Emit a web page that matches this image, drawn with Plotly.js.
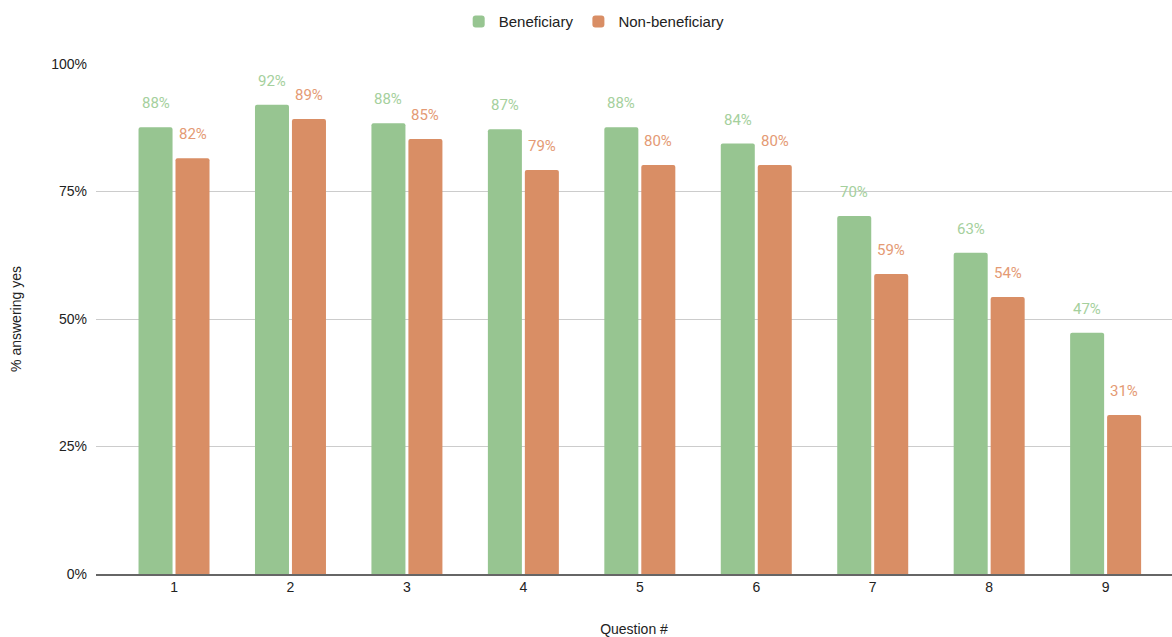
<!DOCTYPE html>
<html>
<head>
<meta charset="utf-8">
<script src="https://cdn.plot.ly/plotly-3.0.1.min.js"></script>
<style>html,body{margin:0;padding:0;background:#fff;}#chart{width:1172px;height:637px;}</style>
</head>
<body>
<div id="chart"></div>
<script>
const questions = [1, 2, 3, 4, 5, 6, 7, 8, 9];
const beneficiary = [0.876, 0.92, 0.884, 0.872, 0.876, 0.844, 0.702, 0.63, 0.473];
const nonBeneficiary = [0.815, 0.892, 0.853, 0.792, 0.802, 0.802, 0.588, 0.543, 0.312];
const yTickVals = [0, 0.25, 0.5, 0.75, 1];
const yTickText = ['0%', '25%', '50%', '75%', '100%'];

const greenBar = '#97c591';
const orangeBar = '#d98e65';
const greenLbl = '#a5d09d';
const orangeLbl = '#e49a74';

const bargap = 0.365;
const offset = (1 - bargap) / 4;

const annotations = [];
questions.forEach((q, i) => {
  annotations.push({x: q - offset, y: beneficiary[i], xref: 'x', yref: 'y', text: Math.round(beneficiary[i]*100) + '%',
    showarrow: false, yanchor: 'bottom', yshift: 13, font: {family: 'Roboto, Arial, sans-serif', size: 15, color: greenLbl}});
  annotations.push({x: q + offset, y: nonBeneficiary[i], xref: 'x', yref: 'y', text: Math.round(nonBeneficiary[i]*100) + '%',
    showarrow: false, yanchor: 'bottom', yshift: 13, font: {family: 'Roboto, Arial, sans-serif', size: 15, color: orangeLbl}});
});

const data = [
  {type: 'bar', name: 'Beneficiary', x: questions, y: beneficiary, marker: {color: greenBar}, hoverinfo: 'none'},
  {type: 'bar', name: 'Non-beneficiary', x: questions, y: nonBeneficiary, marker: {color: orangeBar}, hoverinfo: 'none'}
];

const layout = {
  width: 1172, height: 637,
  margin: {l: 96, r: 0, t: 64, b: 63},
  paper_bgcolor: '#fff', plot_bgcolor: '#fff',
  font: {family: 'Arial, "Liberation Sans", sans-serif', size: 14, color: '#222'},
  barmode: 'group',
  bargap: bargap,
  bargroupgap: 0.08,
  barcornerradius: 2,
  showlegend: true,
  legend: {orientation: 'h', x: 0.463, xanchor: 'center', y: 1.083, yanchor: 'middle',
    font: {size: 15, color: '#222'}, itemwidth: 30, traceorder: 'normal'},
  xaxis: {
    range: [0.33, 9.57], tickvals: questions, ticktext: questions.map(String),
    showgrid: false, zeroline: false, showline: true, linecolor: '#666', linewidth: 1.5,
    ticks: '', tickfont: {size: 14, color: '#222'},
    title: {text: 'Question #', font: {size: 14, color: '#222'}, standoff: 30}
  },
  yaxis: {
    range: [0, 1], tickvals: yTickVals, ticktext: yTickText,
    showgrid: true, gridcolor: '#cccccc', gridwidth: 1, zeroline: false, showline: false,
    ticks: '', ticklabelstandoff: 8, tickfont: {size: 14, color: '#222'},
    title: {text: '% answering yes', font: {size: 14, color: '#222'}, standoff: 26}
  },
  annotations: annotations
};

Plotly.newPlot('chart', data, layout, {displayModeBar: false, staticPlot: true});
</script>
</body>
</html>
